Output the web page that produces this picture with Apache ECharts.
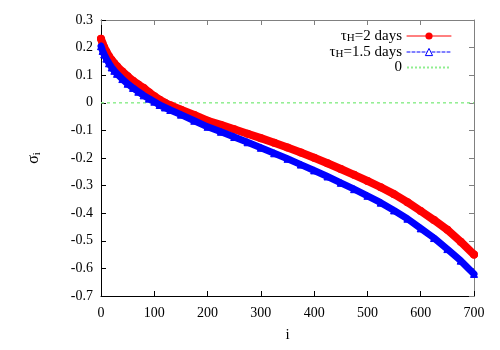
<!DOCTYPE html>
<html><head><meta charset="utf-8">
<script src="https://cdn.jsdelivr.net/npm/echarts@6/dist/echarts.min.js"></script>
<style>html,body{margin:0;padding:0;background:#fff}#c{width:500px;height:350px}</style>
</head><body><div id="c"></div>
<script>
// i positions and sigma values
const iRed = [0,3,6,10,15,20,25,30,40,50,60,70,80,90,100,110,120,130,150,175,200,225,250,275,300,325,350,375,400,425,450,475,500,525,550,575,600,625,650,675,700];
const sigmaRed = [0.232,0.215,0.201,0.186,0.169,0.155,0.143,0.132,0.113,0.096,0.080,0.066,0.054,0.038,0.024,0.011,0.0,-0.009,-0.025,-0.044,-0.065,-0.080,-0.096,-0.112,-0.128,-0.145,-0.162,-0.180,-0.199,-0.219,-0.240,-0.261,-0.283,-0.306,-0.331,-0.360,-0.392,-0.425,-0.460,-0.503,-0.550];
const iBlue = [0,3,6,10,15,20,25,30,40,50,60,70,80,90,100,110,120,130,150,175,200,225,250,275,300,325,350,375,400,425,450,475,500,525,550,575,600,625,650,675,700];
const sigmaBlue = [0.205,0.188,0.175,0.160,0.143,0.128,0.116,0.105,0.086,0.069,0.054,0.040,0.027,0.015,0.004,-0.008,-0.017,-0.026,-0.043,-0.065,-0.087,-0.105,-0.124,-0.143,-0.163,-0.183,-0.203,-0.224,-0.245,-0.267,-0.290,-0.313,-0.337,-0.362,-0.390,-0.420,-0.455,-0.490,-0.530,-0.572,-0.620];
const iZero = [0,700];
const sigmaZero = [0,0];
const xTicks = [0,100,200,300,400,500,600,700];
const yTicks = [0.3,0.2,0.1,0,-0.1,-0.2,-0.3,-0.4,-0.5,-0.6,-0.7];

const pair = (xs, ys) => xs.map((x, k) => [x, ys[k]]);
const font = 'Liberation Serif';
const chart = echarts.init(document.getElementById('c'), null, {renderer:'canvas'});
const legendLabel = {
  tau2: '{t|τ}{s|H}{t|=2 days}',
  tau15: '{t|τ}{s|H}{t|=1.5 days}',
  zero: '{t|0}'
};
chart.setOption({
  animation: false,
  backgroundColor: '#fff',
  grid: {left: 101, right: 26, top: 20, bottom: 54},
  legend: {
    orient: 'vertical', right: 43, top: 23, align: 'right',
    itemWidth: 44, itemHeight: 9, itemGap: 0,
    formatter: n => legendLabel[n],
    textStyle: {fontFamily: font, fontSize: 15, color: '#000', padding: [0,0,0,6],
      rich: {t: {fontFamily: font, fontSize: 15, color: '#000', lineHeight: 12},
             s: {fontFamily: font, fontSize: 11, color: '#000', lineHeight: 12, padding:[5,0,0,0]}}},
    data: [
      {name: 'tau2', itemStyle: {color: '#ff0000'}, lineStyle: {width: 1, color: '#ff0000'}},
      {name: 'tau15', itemStyle: {color: '#ffffff', borderColor: '#0000ff', borderWidth: 1}, lineStyle: {width: 1, type: [3,2], color: '#0000ff'}},
      {name: 'zero', itemStyle: {color: 'rgba(0,0,0,0)', borderWidth: 0}, lineStyle: {width: 2, type: [2,2], color: '#90ee90'}}
    ]
  },
  xAxis: [{
    type: 'value', min: 0, max: 700, interval: 100, position: 'bottom',
    name: 'i', nameLocation: 'middle', nameGap: 32,
    nameTextStyle: {fontFamily: font, fontSize: 15, color: '#000'},
    axisLine: {show: true, onZero: false, lineStyle: {color: '#000', width: 1}},
    axisTick: {show: true, inside: true, length: 5, lineStyle: {color: '#000'}},
    axisLabel: {fontFamily: font, fontSize: 14, color: '#000', margin: 10},
    splitLine: {show: false}
  }, {
    type: 'value', min: 0, max: 700, interval: 100, position: 'top',
    axisLine: {show: true, onZero: false, lineStyle: {color: '#808080', width: 1}},
    axisTick: {show: true, inside: true, length: 5, lineStyle: {color: '#808080'}},
    axisLabel: {show: false}, splitLine: {show: false}
  }],
  yAxis: [{
    type: 'value', min: -0.7, max: 0.3, interval: 0.1, position: 'left',
    name: 'σ{s|i}', nameLocation: 'middle', nameGap: 58, nameRotate: 90,
    nameTextStyle: {fontFamily: font, fontSize: 16, color: '#000',
      rich: {s: {fontFamily: font, fontSize: 11, color: '#000', padding: [8,0,0,0]}}},
    axisLine: {show: true, onZero: false, lineStyle: {color: '#000', width: 1}},
    axisTick: {show: true, inside: true, length: 5, lineStyle: {color: '#000'}},
    axisLabel: {fontFamily: font, fontSize: 14, color: '#000', margin: 8,
      formatter: v => String(+v.toFixed(1))},
    splitLine: {show: false}
  }, {
    type: 'value', min: -0.7, max: 0.3, interval: 0.1, position: 'right',
    axisLine: {show: true, onZero: false, lineStyle: {color: '#808080', width: 1}},
    axisTick: {show: true, inside: true, length: 5, lineStyle: {color: '#808080'}},
    axisLabel: {show: false}, splitLine: {show: false}
  }],
  series: [
    {name: 'zero', type: 'line', data: pair(iZero, sigmaZero), symbol: 'none',
     itemStyle: {color: '#90ee90'},
     lineStyle: {color: '#90ee90', width: 1.5, type: [3,3]}, z: 1},
    {name: 'tau2', type: 'line', data: pair(iRed, sigmaRed), symbol: 'circle', symbolSize: 8,
     showAllSymbol: true, itemStyle: {color: '#ff0000'},
     lineStyle: {color: '#ff0000', width: 8, cap: 'round', join: 'round'}, z: 2},
    {name: 'tau15', type: 'line', data: pair(iBlue, sigmaBlue), symbol: 'triangle', symbolSize: 7,
     showAllSymbol: true, itemStyle: {color: '#0000ff', borderColor: '#0000ff'},
     lineStyle: {color: '#0000ff', width: 7, cap: 'round', join: 'round'}, z: 3}
  ]
});
</script></body></html>
